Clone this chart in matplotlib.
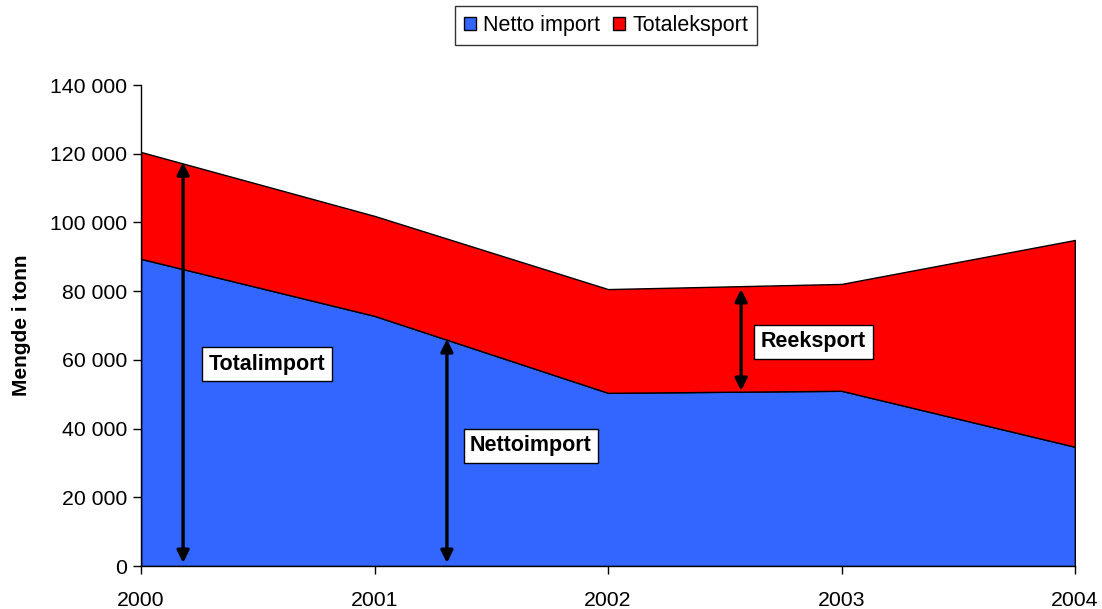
import matplotlib
matplotlib.use("Agg")
import matplotlib.pyplot as plt
from matplotlib.ticker import FuncFormatter

years = [2000, 2001, 2002, 2003, 2004]
netto_import = [89400, 72800, 50400, 51000, 34700]
totaleksport = [31100, 29100, 30200, 31100, 60200]
series_labels = ["Netto import", "Totaleksport"]
colors = ["#3366FF", "#FF0000"]

plt.rcParams['font.family'] = ['Liberation Sans', 'DejaVu Sans']

fig = plt.figure(figsize=(11.02, 6.09), dpi=100)
ax = fig.add_axes([0.128, 0.0706, 0.8475, 0.7898])

total = [a + b for a, b in zip(netto_import, totaleksport)]
ax.fill_between(years, 0, netto_import, facecolor=colors[0], edgecolor='black', linewidth=1.0, label=series_labels[0])
ax.fill_between(years, netto_import, total, facecolor=colors[1], edgecolor='black', linewidth=1.0, label=series_labels[1])
ax.plot([years[-1], years[-1]], [0, total[-1]], color='black', linewidth=1.0)

ax.set_xlim(2000, 2004)
ax.set_ylim(0, 140000)
ax.set_xticks(years)
ax.set_xticklabels([str(y) for y in years])
ax.set_yticks(range(0, 140001, 20000))
ax.yaxis.set_major_formatter(FuncFormatter(lambda v, p: f"{int(v):,}".replace(",", " ")))
ax.tick_params(axis='both', labelsize=15.3, direction='out', length=6, width=1, colors='black')
ax.tick_params(axis='x', pad=12)
ax.tick_params(axis='y', pad=4)
for s in ['top', 'right']:
    ax.spines[s].set_visible(False)
ax.spines['left'].set_linewidth(1)
ax.spines['bottom'].set_linewidth(1)
ax.set_ylabel("Mengde i tonn", fontsize=15, fontweight='bold', labelpad=14)

arrow_kw = dict(arrowstyle='<|-|>', color='black', lw=2.4, mutation_scale=18, shrinkA=0, shrinkB=0)
ax.annotate('', xy=(2000.18, 117500), xytext=(2000.18, 900), arrowprops=arrow_kw)
ax.annotate('', xy=(2001.31, 66000), xytext=(2001.31, 900), arrowprops=arrow_kw)
ax.annotate('', xy=(2002.57, 80600), xytext=(2002.57, 51000), arrowprops=arrow_kw)

box = dict(boxstyle='square,pad=0.3', facecolor='white', edgecolor='black', linewidth=1)
ax.text(2000.54, 58700, "Totalimport", fontsize=15.5, fontweight='bold', ha='center', va='center', bbox=box)
ax.text(2001.67, 35000, "Nettoimport", fontsize=15.5, fontweight='bold', ha='center', va='center', bbox=box)
ax.text(2002.88, 65300, "Reeksport", fontsize=15.5, fontweight='bold', ha='center', va='center', bbox=box)

leg = fig.legend(loc='center', bbox_to_anchor=(0.55, 0.958), ncol=2, fontsize=15.5, frameon=True,
                 fancybox=False, edgecolor='black', handlelength=0.55, handleheight=0.55,
                 handletextpad=0.35, columnspacing=0.6, borderpad=0.4)
leg.get_frame().set_linewidth(1)

fig.savefig("out.png", dpi=100)
